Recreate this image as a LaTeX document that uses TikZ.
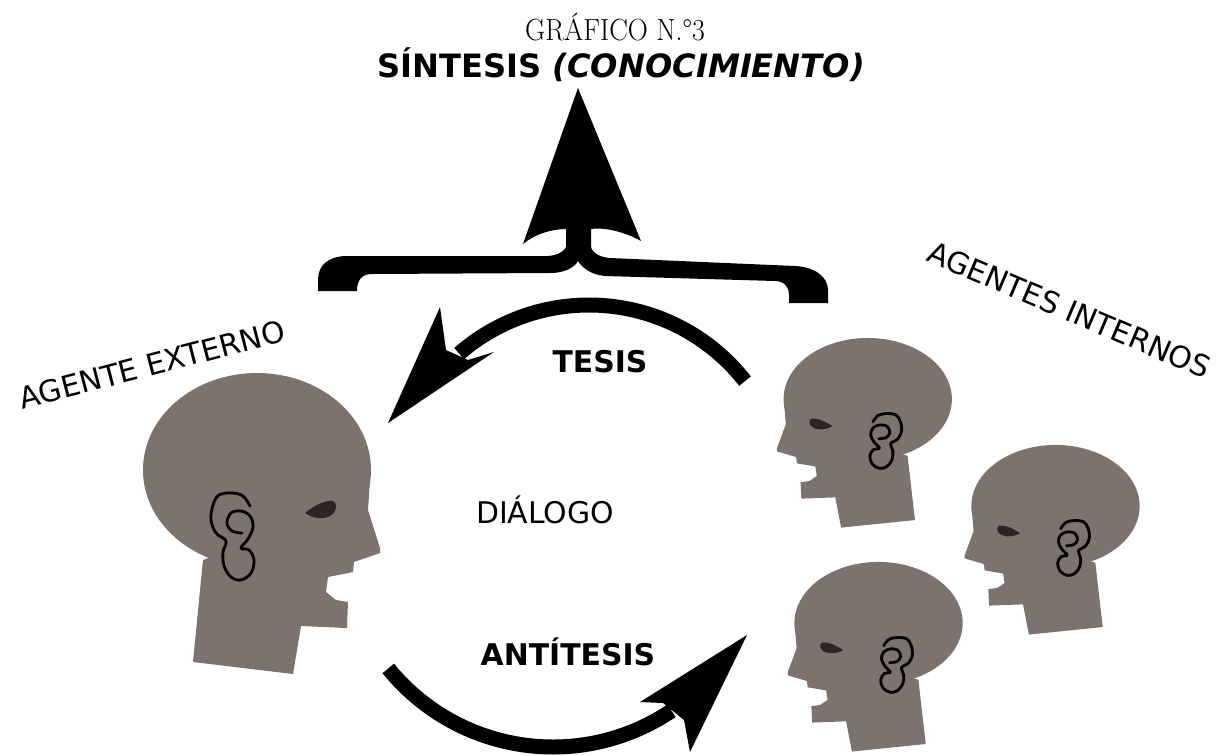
\documentclass[tikz,border=0pt]{standalone}
\usepackage{fontspec}
\usepackage{graphicx}
\newfontfamily\dv{DejaVu Sans}
\definecolor{headgray}{RGB}{124,114,110}
\definecolor{eyedark}{RGB}{43,37,35}
\newcommand{\drawhead}{%
  \fill[headfill] (257,470) ellipse [x radius=114, y radius=97];
  \fill[headfill] (355,470) -- (370,480) -- (368,510) -- (380,548) -- (380,553) -- (354,562)
     -- (353,572) -- (328,577) -- (326,592) -- (336,600) -- (348,602) -- (347,628)
     -- (301,626) -- (293,674) -- (193,662) -- (203,560) -- (257,540) -- cycle;
  \fill[eyefill] (305,513) .. controls (315,505) and (325,500) .. (333,501)
     .. controls (338,503) and (337,512) .. (330,516)
     .. controls (322,520) and (312,518) .. cycle;
  \draw[earline] plot[smooth, tension=0.6] coordinates {(250,506) (243,496) (232,493) (219,495) (213,505)
     (211,520) (216,533) (226,541) (223,552) (224,566) (231,577) (241,580) (251,573)
     (254,560) (249,550) (241,548) (248,539) (253,527) (250,516) (241,511) (231,513)
     (227,523) (232,531) (242,533)};
}
\begin{document}
\begin{tikzpicture}[x=0.02cm,y=-0.02cm,
  lbl/.style={font={\dv\fontsize{17pt}{20pt}\selectfont}, inner sep=0pt, anchor=base},
  lblb/.style={lbl, font={\dv\bfseries\fontsize{17pt}{20pt}\selectfont}},
  shaft/.style={line width=0.3cm, draw=black},
  headfill/.style={fill=headgray},
  eyefill/.style={fill=eyedark},
  earline/.style={draw=black, line width=1.6pt, line join=round, line cap=round},
  tipfill/.style={fill=black}]
\useasboundingbox[fill=white] (0,0) rectangle (1218,755);

% titles
\node[font={\fontsize{17.4pt}{20pt}\selectfont}, inner sep=0pt, anchor=base] (grafico) at (615,40) {\scalebox{0.91}[1]{GRÁFICO N.°3}};
\node[lblb, font={\dv\bfseries\fontsize{18.3pt}{21pt}\selectfont}] (sintesis) at (621,77) {SÍNTESIS \textit{(CONOCIMIENTO)}};

% big upward arrow and brace
\fill[tipfill] (578,88) -- (641,241) .. controls (625,232) and (605,227) .. (591,229)
   -- (591,250) -- (566,250) -- (566,229) .. controls (552,229) and (535,234) .. (523,244) -- cycle;
\fill[tipfill] (318,291) -- (318,280) .. controls (318,265) and (328,257) .. (345,256)
   -- (548,256) .. controls (560,255) and (566,250) .. (567,244)
   -- (590,244) .. controls (591,251) and (597,257) .. (610,258)
   -- (795,266) .. controls (815,267) and (828,277) .. (828,290)
   -- (828,303) -- (789,303) -- (789,294) .. controls (789,287) and (784,281) .. (775,281)
   -- (605,276) .. controls (592,275) and (582,268) .. (578,261)
   .. controls (574,268) and (564,273) .. (550,273)
   -- (372,274) .. controls (361,274) and (357,281) .. (357,291) -- cycle;

% TESIS arrow
\draw[shaft] plot[domain=38:131, samples=60, smooth] ({589+198*cos(\x)},{503-198*sin(\x)});
\fill[tipfill] (388,423) -- (440,307) -- (446,350) -- (468,360) -- (494,352) -- cycle;
\node[lblb] (tesis) at (600,372) {TESIS};

% ANTITESIS arrow
\draw[shaft] plot[domain=219:304, samples=60, smooth] ({553+212*cos(\x)},{535-212*sin(\x)});
\fill[tipfill] (747,635) -- (640,702) -- (663,703) -- (684,720) -- (690,752) -- cycle;
\node[lblb] (antitesis) at (568,665) {ANTÍTESIS};

% dialog label
\node[lbl] (dialogo) at (545,523) {DIÁLOGO};

% agents labels
\node[lbl, rotate=14.5] (externo) at (155,375) {AGENTE EXTERNO};
\node[lbl, rotate=-23] (internos) at (1065,320) {AGENTES INTERNOS};

% external agent head
\begin{scope}
\drawhead
\end{scope}
% internal agents heads
\begin{scope}[xshift=21.152cm, yshift=-2.06cm, xscale=-0.738, yscale=0.63]
\drawhead
\end{scope}
\begin{scope}[xshift=24.908cm, yshift=-4.2cm, xscale=-0.738, yscale=0.63]
\drawhead
\end{scope}
\begin{scope}[xshift=21.368cm, yshift=-6.54cm, xscale=-0.738, yscale=0.63]
\drawhead
\end{scope}
\end{tikzpicture}
\end{document}
